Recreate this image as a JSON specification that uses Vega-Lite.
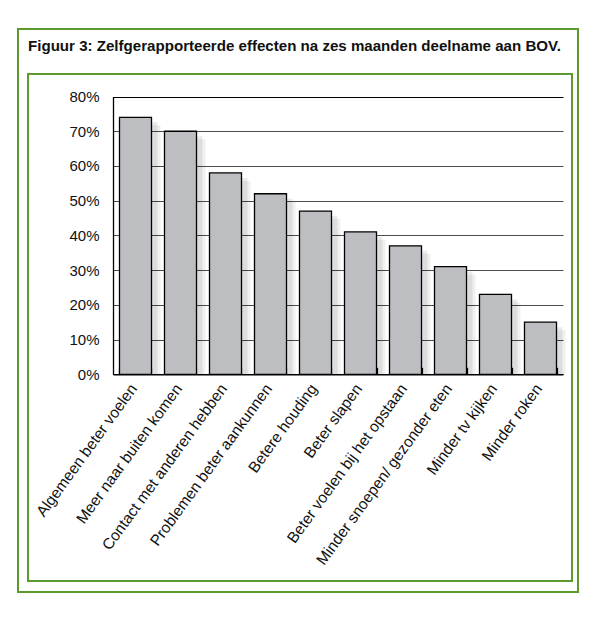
{
  "$schema": "https://vega.github.io/schema/vega-lite/v6.json",
  "width": 560,
  "height": 563,
  "autosize": {"type": "none"},
  "padding": {"left": 18, "top": 29, "right": 29, "bottom": 28},
  "background": "white",
  "config": {
    "view": {"stroke": "#5c9a2e", "strokeWidth": 2},
    "font": "Liberation Sans"
  },
  "title": {
    "text": "Figuur 3: Zelfgerapporteerde effecten na zes maanden deelname aan BOV.",
    "anchor": "start",
    "frame": "group",
    "orient": "top",
    "offset": 0,
    "dx": 10,
    "dy": 37,
    "baseline": "alphabetic",
    "fontSize": 15.1,
    "fontWeight": "bold",
    "color": "#111111"
  },
  "datasets": {
    "effects": [
      {"effect": "Algemeen beter voelen", "pct": 74},
      {"effect": "Meer naar buiten komen", "pct": 70},
      {"effect": "Contact met anderen hebben", "pct": 58},
      {"effect": "Problemen beter aankunnen", "pct": 52},
      {"effect": "Betere houding", "pct": 47},
      {"effect": "Beter slapen", "pct": 41},
      {"effect": "Beter voelen bij het opstaan", "pct": 37},
      {"effect": "Minder snoepen/ gezonder eten", "pct": 31},
      {"effect": "Minder tv kijken", "pct": 23},
      {"effect": "Minder roken", "pct": 15}
    ]
  },
  "layer": [
    {
      "data": {"name": "effects"},
      "mark": {"type": "bar", "fill": "#000000", "fillOpacity": 0.08, "xOffset": 6, "yOffset": 5},
      "encoding": {
        "x": {"field": "effect", "type": "nominal", "title": null},
        "y": {"field": "pct", "type": "quantitative", "title": null},
        "y2": {"datum": 0}
      }
    },
    {
      "data": {"name": "effects"},
      "mark": {"type": "bar", "fill": "#000000", "fillOpacity": 0.06, "xOffset": 9, "yOffset": 8},
      "encoding": {
        "x": {"field": "effect", "type": "nominal", "title": null},
        "y": {"field": "pct", "type": "quantitative", "title": null},
        "y2": {"datum": 0}
      }
    },
    {
      "data": {"name": "effects"},
      "mark": {"type": "bar", "fill": "#bdbec2", "stroke": "#000000", "strokeWidth": 1.3},
      "encoding": {
        "x": {
          "field": "effect",
          "type": "nominal",
          "title": null,
          "scale": {
            "type": "band",
            "domain": [
              "Algemeen beter voelen", "Meer naar buiten komen", "Contact met anderen hebben",
              "Problemen beter aankunnen", "Betere houding", "Beter slapen",
              "Beter voelen bij het opstaan", "Minder snoepen/ gezonder eten",
              "Minder tv kijken", "Minder roken"
            ],
            "range": [95, 545],
            "paddingInner": 0.28889,
            "paddingOuter": 0.14444,
            "align": 0.5
          },
          "axis": {
            "orient": "bottom",
            "offset": -217.7,
            "domain": true,
            "domainColor": "#000000",
            "domainWidth": 1.3,
            "grid": false,
            "ticks": true,
            "tickBand": "extent",
            "tickSize": -7,
            "tickColor": "#000000",
            "tickWidth": 1.2,
            "labelAngle": -54,
            "labelAlign": "right",
            "labelBaseline": "top",
            "labelPadding": 14,
            "labelOffset": -8,
            "labelFontSize": 15.5,
            "labelColor": "#111111",
            "labelLimit": 0,
            "title": null
          }
        },
        "y": {
          "field": "pct",
          "type": "quantitative",
          "title": null,
          "scale": {"domain": [0, 80], "range": [345.3, 67.5], "nice": false, "zero": false},
          "axis": {
            "orient": "left",
            "offset": -95,
            "values": [0, 10, 20, 30, 40, 50, 60, 70, 80],
            "labelExpr": "datum.value + '%'",
            "domain": true,
            "domainColor": "#000000",
            "domainWidth": 1.3,
            "ticks": false,
            "tickSize": 0,
            "grid": true,
            "gridColor": {"condition": {"test": "datum.value === 80 || datum.value === 0", "value": "#000000"}, "value": "#4d4d4d"},
            "gridWidth": 1.2,
            "labelPadding": 14,
            "labelFontSize": 15,
            "labelColor": "#111111",
            "title": null
          }
        },
        "y2": {"datum": 0}
      }
    },
    {
      "data": {"values": [{"top": 86.48, "bottom": -59.52}]},
      "mark": {"type": "rect", "filled": false, "stroke": "#5c9a2e", "strokeWidth": 2},
      "encoding": {
        "x": {"datum": "Algemeen beter voelen", "type": "nominal", "bandPosition": -2.859, "title": null},
        "x2": {"datum": "Minder roken", "bandPosition": 1.484},
        "y": {"field": "top", "type": "quantitative", "title": null},
        "y2": {"field": "bottom"}
      }
    }
  ]
}
